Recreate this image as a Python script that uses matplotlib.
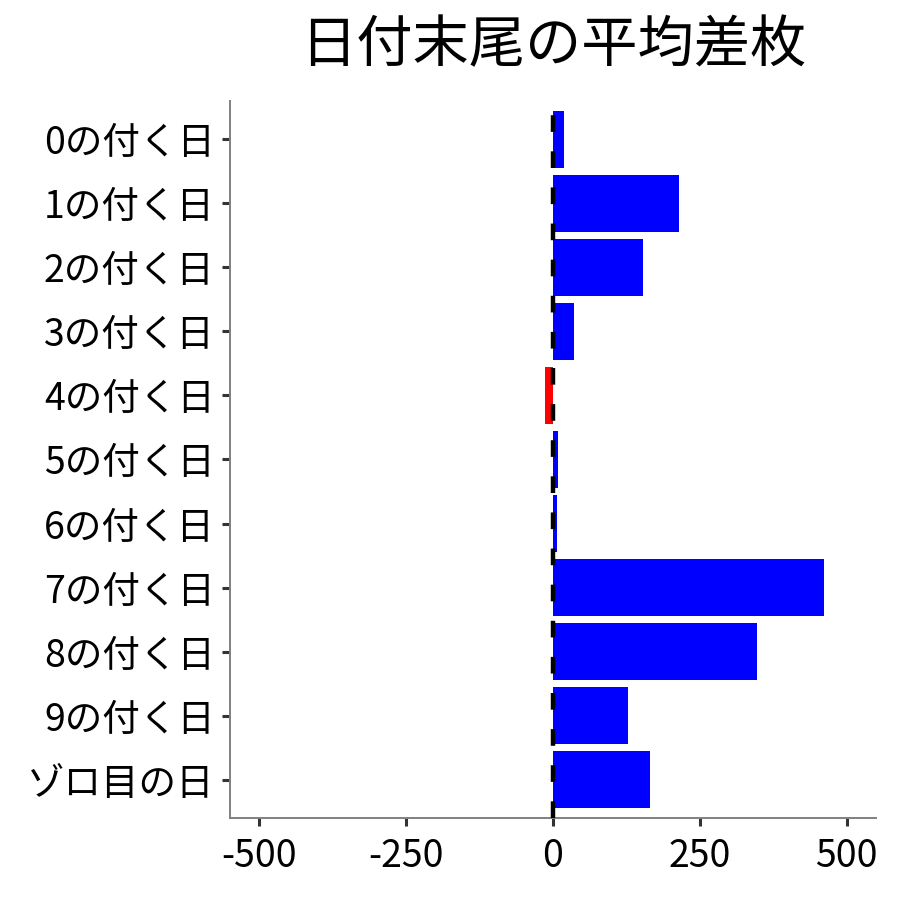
import matplotlib
matplotlib.use("Agg")
import matplotlib.pyplot as plt

plt.rcParams['font.family'] = ['Noto Sans CJK JP', 'DejaVu Sans']
plt.rcParams['lines.scale_dashes'] = False

# 日付末尾ごとの平均差枚
categories = ["0の付く日", "1の付く日", "2の付く日", "3の付く日", "4の付く日",
              "5の付く日", "6の付く日", "7の付く日", "8の付く日", "9の付く日",
              "ゾロ目の日"]
values = [19, 214, 153, 36, -14, 8, 6, 461, 347, 128, 165]
x_ticks = [-500, -250, 0, 250, 500]

colors = ["#0000FF" if v >= 0 else "#FF0000" for v in values]

fig = plt.figure(figsize=(9, 9), dpi=100)
ax = fig.add_axes([0.2556, 0.0911, 0.7177, 0.7967])

y = list(range(len(categories)))
ax.barh(y, values, height=0.9, color=colors, zorder=2)
ax.axvline(0, color="black", linewidth=3.2, dashes=(12, 14), zorder=3)

ax.set_xlim(-550, 550)
ax.set_ylim(len(categories) - 0.4, -0.6)
ax.set_xticks(x_ticks)
ax.set_xticklabels([str(t) for t in x_ticks])
ax.set_yticks(y)
ax.set_yticklabels(categories)

for side in ["top", "right"]:
    ax.spines[side].set_visible(False)
for side in ["left", "bottom"]:
    ax.spines[side].set_color("#808080")
    ax.spines[side].set_linewidth(1.4)

ax.tick_params(axis="both", length=6, width=2.2, color="#333333",
               labelsize=27, labelcolor="black")
ax.tick_params(axis="y", pad=5)
ax.tick_params(axis="x", pad=8)

fig.text(0.6144, 0.948, "日付末尾の平均差枚", ha="center", va="center", fontsize=40.5)

fig.savefig("out.png", dpi=100)
